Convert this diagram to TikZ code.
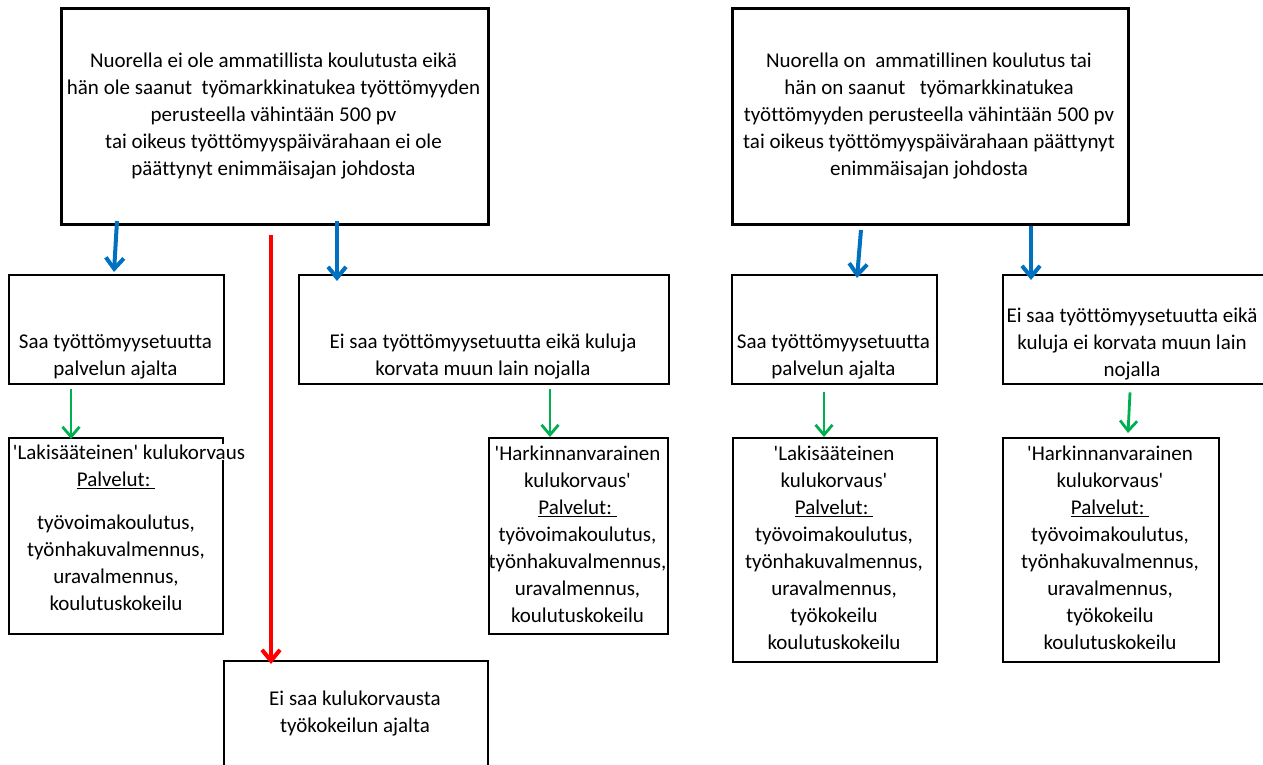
\documentclass[tikz,border=0pt]{standalone}
\usepackage{fontspec}
\setmainfont{Carlito}[Ligatures=NoCommon]
\usetikzlibrary{arrows.meta}
\definecolor{arrblue}{RGB}{0,112,192}
\definecolor{arrgreen}{RGB}{0,176,80}
\definecolor{arrred}{RGB}{255,0,0}

\begin{document}
\begin{tikzpicture}[x=1pt,y=-1pt,
  box/.style={draw,line width=2.4pt,anchor=north west,inner sep=0pt},
  bigbox/.style={box,line width=3pt},
  txt/.style={align=center,inner sep=0pt,font=\fontsize{21}{27}\selectfont},
  bluearr/.style={arrblue,line width=4pt,-{Straight Barb[length=11pt,width=18pt]}},
  greenarr/.style={arrgreen,line width=2.8pt,-{Straight Barb[length=10pt,width=17pt]}},
  redarr/.style={arrred,line width=4pt,-{Straight Barb[length=11pt,width=18pt]}}
  ]
    \useasboundingbox (0,0) rectangle (1263,765);
    \clip (0,0) rectangle (1263,765);

    \node[bigbox,minimum width=427,minimum height=216] (topL) at (60,7) {};
    \node[bigbox,minimum width=396,minimum height=216] (topR) at (731,7) {};
    \node[box,minimum width=215,minimum height=109] (saaL) at (8,274) {};
    \node[box,minimum width=370,minimum height=109] (eiL) at (298,274) {};
    \node[box,minimum width=214,minimum height=196] (lakiL) at (8,437) {};
    \node[box,minimum width=179,minimum height=196] (harkL) at (488,437) {};
    \node[box,minimum width=264,minimum height=130] (eiKulu) at (223,660) {};
    \node[box,minimum width=205,minimum height=109] (saaR) at (731,274) {};
    \node[box,minimum width=275,minimum height=109] (eiR) at (1002,274) {};
    \node[box,minimum width=204,minimum height=224] (lakiR) at (732,437) {};
    \node[box,minimum width=216,minimum height=224] (harkR) at (1002,437) {};

    \node[txt] (topLt) at (273.5,116.5) {Nuorella ei ole ammatillista koulutusta eikä\\
      hän ole saanut\ \ työmarkkinatukea työttömyyden\\
      perusteella vähintään 500 pv\\
      tai oikeus työttömyyspäivärahaan ei ole\\
      päättynyt enimmäisajan johdosta};
    \node[txt] (topRt) at (929,116.5) {Nuorella on\ \ ammatillinen koulutus tai\\
      hän on saanut\ \ \ työmarkkinatukea\\
      työttömyyden perusteella vähintään 500 pv\\
      tai oikeus työttömyyspäivärahaan päättynyt\\
      enimmäisajan johdosta};
    \node[txt] (saaLt) at (115.5,357) {Saa työttömyysetuutta\\ palvelun ajalta};
    \node[txt] (eiLt) at (483,357) {Ei saa työttömyysetuutta eikä kuluja\\ korvata muun lain nojalla};
    \node[txt,fill=white,inner sep=1pt] (lakiLh) at (129,452) {\textquotesingle Lakisääteinen\textquotesingle{} kulukorvaus};
    \node[txt] (lakiLt) at (116,541) {\underline{Palvelut:\ }\\[16pt]
      työvoimakoulutus,\\ työnhakuvalmennus,\\ uravalmennus,\\ koulutuskokeilu};
    \node[txt] (harkLt) at (577.5,534.5) {\textquotesingle Harkinnanvarainen\\ kulukorvaus\textquotesingle\\
      \underline{Palvelut:\ }\\ työvoimakoulutus,\\ työnhakuvalmennus,\\ uravalmennus,\\ koulutuskokeilu};
    \node[txt] (eiKulut) at (355,714) {Ei saa kulukorvausta\\ työkokeilun ajalta};
    \node[txt] (saaRt) at (833.5,357) {Saa työttömyysetuutta\\ palvelun ajalta};
    \node[txt] (eiRt) at (1132,344) {Ei saa työttömyysetuutta eikä\\ kuluja ei korvata muun lain\\ nojalla};
    \node[txt] (lakiRt) at (834,547.5) {\textquotesingle Lakisääteinen\\ kulukorvaus\textquotesingle\\
      \underline{Palvelut:\ }\\ työvoimakoulutus,\\ työnhakuvalmennus,\\ uravalmennus,\\ työkokeilu\\ koulutuskokeilu};
    \node[txt] (harkRt) at (1110,547.5) {\textquotesingle Harkinnanvarainen\\ kulukorvaus\textquotesingle\\
      \underline{Palvelut:\ }\\ työvoimakoulutus,\\ työnhakuvalmennus,\\ uravalmennus,\\ työkokeilu\\ koulutuskokeilu};

    \draw[bluearr] ([xshift=57pt,yshift=5pt]topL.south west) -- ([xshift=106pt,yshift=2pt]saaL.north west);
    \draw[bluearr] ([xshift=277pt,yshift=5pt]topL.south west) -- ([xshift=39pt,yshift=-7pt]eiL.north west);
    \draw[redarr] ([xshift=211pt,yshift=-9pt]topL.south west) -- ([xshift=48pt,yshift=-4pt]eiKulu.north west);
    \draw[bluearr] ([xshift=130pt,yshift=-4pt]topR.south west) -- ([xshift=126pt,yshift=-4pt]saaR.north west);
    \draw[bluearr] ([xshift=300pt]topR.south west) -- ([xshift=29pt,yshift=-6pt]eiR.north west);
    \draw[greenarr] ([xshift=63pt,yshift=-4pt]saaL.south west) -- ([xshift=63pt,yshift=-2pt]lakiL.north west);
    \draw[greenarr] ([xshift=252pt,yshift=-4pt]eiL.south west) -- ([xshift=62pt]harkL.north west);
    \draw[greenarr] ([xshift=93pt,yshift=-7pt]saaR.south west) -- ([xshift=92pt]lakiR.north west);
    \draw[greenarr] ([xshift=128pt,yshift=-7pt]eiR.south west) -- ([xshift=126pt,yshift=4pt]harkR.north west);
\end{tikzpicture}
\end{document}
